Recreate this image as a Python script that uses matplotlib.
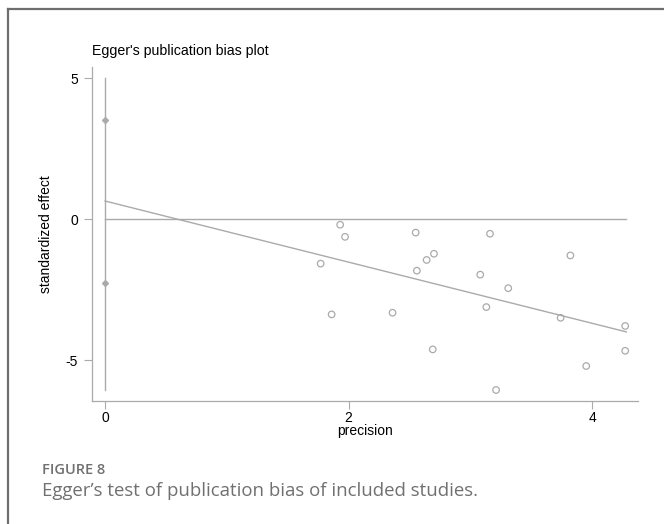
import matplotlib
matplotlib.use("Agg")
import matplotlib.pyplot as plt
from matplotlib.lines import Line2D

# ---------------------------------------------------------
# Egger's publication bias plot
# ---------------------------------------------------------
precision = [1.77, 1.86, 1.93, 1.97, 2.36, 2.55, 2.56, 2.64, 2.69, 2.70,
             3.08, 3.13, 3.16, 3.21, 3.31, 3.74, 3.82, 3.95, 4.27, 4.27]
std_effect = [-1.58, -3.38, -0.20, -0.63, -3.32, -0.48, -1.83, -1.45, -4.62, -1.23,
              -1.97, -3.12, -0.52, -6.06, -2.45, -3.50, -1.29, -5.21, -3.79, -4.67]

# intercept confidence interval drawn at precision = 0
ci_x = [0, 0]
ci_y = [5.0, -6.06]
ci_marks_y = [3.5, -2.25]

# fitted regression line and zero reference
fit_x = [0, 4.28]
fit_y = [0.64, -4.0]
zero_x = [0, 4.28]
zero_y = [0, 0]

xticks = [0, 2, 4]
yticks = [5, 0, -5]

grey = "#aaaaaa"
font = ["Liberation Sans", "DejaVu Sans"]

fig = plt.figure(figsize=(6.64, 5.24), dpi=100)
ax = fig.add_axes([0.1386, 0.2347, 0.961 - 0.1386, 0.8721 - 0.2347])

ax.plot(ci_x, ci_y, color=grey, lw=1.0)
ax.plot([0, 0], ci_marks_y, linestyle="none", marker="D", markersize=3,
        color=grey, markeredgecolor=grey)
ax.plot(zero_x, zero_y, color=grey, lw=1.0)
ax.plot(fit_x, fit_y, color=grey, lw=1.0)
ax.scatter(precision, std_effect, s=22, facecolors="none", edgecolors=grey, linewidths=0.9)

ax.set_xlim(-0.107, 4.376)
ax.set_ylim(-6.45, 5.39)
ax.set_xticks(xticks)
ax.set_yticks(yticks)
ax.set_xticklabels([str(t) for t in xticks], family=font, fontsize=10)
ax.set_yticklabels([str(t) for t in yticks], family=font, fontsize=10)
ax.tick_params(direction="out", length=6, width=0.8, color=grey)
ax.tick_params(axis="x", pad=1.5)
ax.tick_params(axis="y", pad=4)

for side in ("top", "right"):
    ax.spines[side].set_visible(False)
for side in ("left", "bottom"):
    ax.spines[side].set_color(grey)
    ax.spines[side].set_linewidth(0.9)

ax.set_xlabel("precision", family=font, fontsize=10, labelpad=-1)
ax.set_ylabel("standardized effect", family=font, fontsize=10, labelpad=9)
ax.set_title("Egger's publication bias plot", family=font, fontsize=10.2,
             loc="left", pad=9)

# card frame (top and left edges only)
fig.add_artist(Line2D([8 / 664, 1], [1 - 9 / 524, 1 - 9 / 524],
                      transform=fig.transFigure, color="#6e6e6e", lw=1.6))
fig.add_artist(Line2D([8 / 664, 8 / 664], [0, 1 - 9 / 524],
                      transform=fig.transFigure, color="#6e6e6e", lw=1.6))

# caption
cap_font = ["Open Sans", "DejaVu Sans"]
fig.text(42 / 664, 1 - 470 / 524, "FIGURE 8", family=cap_font, fontsize=10.5,
         color="#707070", va="center", ha="left", fontweight="semibold")
fig.text(42 / 664, 1 - 491 / 524, "Egger\u2019s test of publication bias of included studies.",
         family=cap_font, fontsize=13.4, color="#707070", va="center", ha="left")

fig.savefig("out.png", dpi=100)
